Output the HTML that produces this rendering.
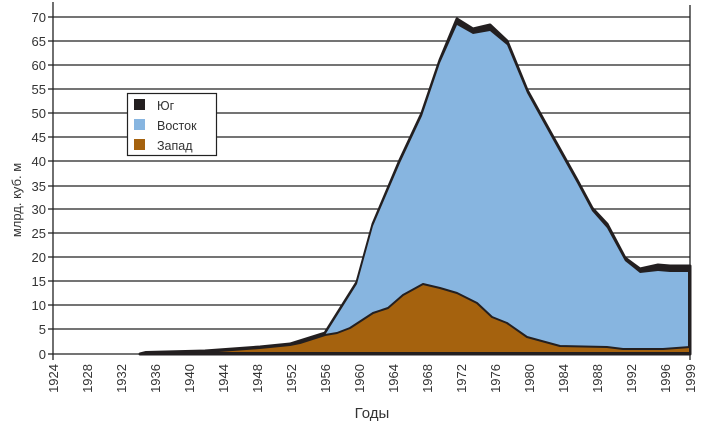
<!DOCTYPE html>
<html><head><meta charset="utf-8"><style>
html,body{margin:0;padding:0;background:#fff;}
svg{display:block;font-family:"Liberation Sans","DejaVu Sans",sans-serif;}
</style></head><body>
<svg width="704" height="428" viewBox="0 0 704 428">
<g stroke="#222" stroke-width="1.3">
<line x1="53" y1="17" x2="690" y2="17"/><line x1="53" y1="41" x2="690" y2="41"/>
<line x1="53" y1="65" x2="690" y2="65"/><line x1="53" y1="89" x2="690" y2="89"/>
<line x1="53" y1="113" x2="690" y2="113"/><line x1="53" y1="137" x2="690" y2="137"/>
<line x1="53" y1="161" x2="690" y2="161"/><line x1="53" y1="186" x2="690" y2="186"/>
<line x1="53" y1="209" x2="690" y2="209"/><line x1="53" y1="233" x2="690" y2="233"/>
<line x1="53" y1="257" x2="690" y2="257"/><line x1="53" y1="281" x2="690" y2="281"/>
<line x1="53" y1="305" x2="690" y2="305"/><line x1="53" y1="329" x2="690" y2="329"/>
</g>
<g stroke="#222" stroke-width="1.3">
<line x1="53" y1="2" x2="53" y2="360"/>
<line x1="690" y1="5" x2="690" y2="360"/>
<line x1="48" y1="17" x2="53" y2="17"/><line x1="48" y1="41" x2="53" y2="41"/><line x1="48" y1="65" x2="53" y2="65"/><line x1="48" y1="89" x2="53" y2="89"/><line x1="48" y1="113" x2="53" y2="113"/><line x1="48" y1="137" x2="53" y2="137"/><line x1="48" y1="161" x2="53" y2="161"/><line x1="48" y1="186" x2="53" y2="186"/><line x1="48" y1="209" x2="53" y2="209"/><line x1="48" y1="233" x2="53" y2="233"/><line x1="48" y1="257" x2="53" y2="257"/><line x1="48" y1="281" x2="53" y2="281"/><line x1="48" y1="305" x2="53" y2="305"/><line x1="48" y1="329" x2="53" y2="329"/><line x1="48" y1="354" x2="53" y2="354"/>
</g>
<!-- total (black) -->
<path d="M140,354 L146,352.5 L205,351 L260,347 L290,344 L325,333 L357,282 L373,224 L400,160 L422,113 L440,60 L457,19 L473,29 L490,25 L507,41 L527,90 L553,137 L577,180 L592,208 L607,224 L625,258 L640,269 L658,265 L670,266 L690,266 L690,354 Z" fill="#231f20" stroke="#231f20" stroke-width="3" stroke-linejoin="round"/>
<!-- blue -->
<path d="M325,335 L357,284 L373,226 L400,163 L422,116 L440,63 L457,25 L473,34 L490,31 L507,45 L527,93 L553,140 L577,183 L592,211 L607,228 L625,261 L640,273 L658,271 L670,272 L688,272 L688,352 L325,352 Z" fill="#87b5e0"/>
<!-- brown -->
<path d="M205,352 L260,348 L290,345 L300,343 L325,335 L337,333 L350,328 L373,313 L388,308 L403,295 L423,284 L440,288 L457,293 L477,303 L492,317 L507,323 L527,337 L560,346 L607,347 L623,349 L663,349 L690,347 L690,353 L205,353 Z" fill="#a5620e" stroke="#231f20" stroke-width="2" stroke-linejoin="round"/>
<line x1="140" y1="354" x2="690" y2="354" stroke="#231f20" stroke-width="2.5"/>
<line x1="53" y1="354" x2="140" y2="354" stroke="#222" stroke-width="1.3"/>
<g font-size="13" fill="#333" text-anchor="end">
<text x="46" y="22">70</text><text x="46" y="46">65</text><text x="46" y="70">60</text><text x="46" y="94">55</text><text x="46" y="118">50</text><text x="46" y="142">45</text><text x="46" y="166">40</text><text x="46" y="191">35</text><text x="46" y="214">30</text><text x="46" y="238">25</text><text x="46" y="262">20</text><text x="46" y="286">15</text><text x="46" y="310">10</text><text x="46" y="334">5</text><text x="46" y="359">0</text>
</g>
<g font-size="13" fill="#333" text-anchor="end">
<text transform="translate(58,364) rotate(-90)">1924</text>
<text transform="translate(92,364) rotate(-90)">1928</text>
<text transform="translate(126,364) rotate(-90)">1932</text>
<text transform="translate(160,364) rotate(-90)">1936</text>
<text transform="translate(194,364) rotate(-90)">1940</text>
<text transform="translate(228,364) rotate(-90)">1944</text>
<text transform="translate(262,364) rotate(-90)">1948</text>
<text transform="translate(296,364) rotate(-90)">1952</text>
<text transform="translate(330,364) rotate(-90)">1956</text>
<text transform="translate(364,364) rotate(-90)">1960</text>
<text transform="translate(398,364) rotate(-90)">1964</text>
<text transform="translate(432,364) rotate(-90)">1968</text>
<text transform="translate(466,364) rotate(-90)">1972</text>
<text transform="translate(500,364) rotate(-90)">1976</text>
<text transform="translate(534,364) rotate(-90)">1980</text>
<text transform="translate(568,364) rotate(-90)">1984</text>
<text transform="translate(602,364) rotate(-90)">1988</text>
<text transform="translate(636,364) rotate(-90)">1992</text>
<text transform="translate(670,364) rotate(-90)">1996</text>
<text transform="translate(695,364) rotate(-90)">1999</text>
</g>
<text transform="translate(21,200) rotate(-90)" font-size="13" fill="#333" text-anchor="middle">млрд. куб. м</text>
<text x="372" y="418" font-size="15" fill="#333" text-anchor="middle">Годы</text>
<rect x="127.5" y="93.5" width="89" height="62" fill="#fff" stroke="#222" stroke-width="1.2"/>
<rect x="134" y="99" width="11" height="11" fill="#231f20"/>
<rect x="134" y="119" width="11" height="11" fill="#87b5e0"/>
<rect x="134" y="139" width="11" height="11" fill="#a5620e"/>
<g font-size="12.5" fill="#333">
<text x="157" y="110">Юг</text><text x="157" y="130">Восток</text><text x="157" y="150">Запад</text>
</g>
</svg>
</body></html>
